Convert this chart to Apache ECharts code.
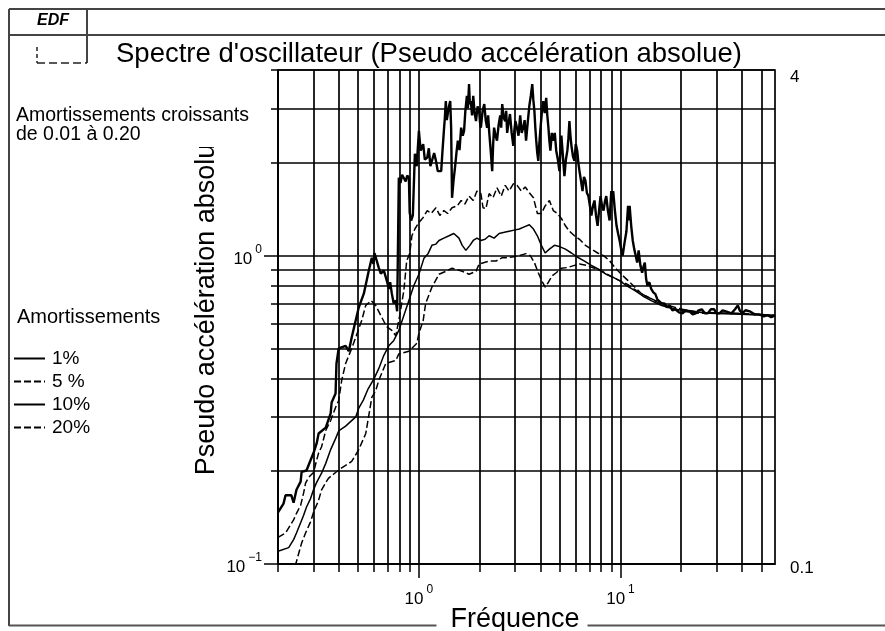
<!DOCTYPE html>
<html><head><meta charset="utf-8">
<script src="https://cdn.jsdelivr.net/npm/echarts@6/dist/echarts.min.js"></script>
<style>html,body{margin:0;padding:0;background:#fff}#c{width:885px;height:631px}</style>
</head><body><div id="c"></div>
<script>
// ---- data ----
const gridFreqTicks = [0.2,0.3,0.4,0.5,0.6,0.7,0.8,0.9,1,2,3,4,5,6,7,8,9,10,20,30,40,50];
const gridAccelTicks = [0.1,0.2,0.3,0.4,0.5,0.6,0.7,0.8,0.9,1,2,3,4];
const freqLabelValues = [1,10];
const accelLabelValues = [0.1,1];
const rightLabelValues = [0.1,4];
const seriesNames = ['1%','5 %','10%','20%'];

const damping1 = [[0.2,0.147],[0.213,0.157],[0.218,0.167],[0.233,0.167],[0.239,0.158],[0.247,0.174],[0.259,0.185],[0.262,0.199],[0.277,0.201],[0.29,0.217],[0.3,0.229],[0.311,0.246],[0.318,0.265],[0.345,0.277],[0.365,0.308],[0.369,0.334],[0.386,0.357],[0.39,0.447],[0.4,0.5],[0.433,0.51],[0.449,0.49],[0.464,0.543],[0.503,0.679],[0.533,0.753],[0.564,0.894],[0.584,0.985],[0.595,0.94],[0.602,1.02],[0.611,1.015],[0.632,0.914],[0.647,0.874],[0.67,0.894],[0.693,0.83],[0.71,0.78],[0.72,0.82],[0.734,0.753],[0.75,0.70],[0.768,0.715],[0.78,0.66],[0.788,1.12],[0.795,1.79],[0.81,1.72],[0.825,1.83],[0.842,1.81],[0.86,1.74],[0.875,1.82],[0.892,1.79],[0.9,1.38],[0.915,1.30],[0.933,1.35],[0.955,2.14],[0.975,1.95],[1.0,2.54],[1.02,2.19],[1.05,2.3],[1.07,2.05],[1.1,2.08],[1.12,2.23],[1.14,1.95],[1.16,2.03],[1.19,2.15],[1.215,2.03],[1.24,1.88],[1.29,1.88],[1.31,2.2],[1.33,2.54],[1.345,2.8],[1.36,3.17],[1.375,2.75],[1.39,2.88],[1.41,3.05],[1.43,3.17],[1.445,2.6],[1.46,1.54],[1.485,1.75],[1.51,1.93],[1.535,2.15],[1.56,2.36],[1.59,2.2],[1.62,2.6],[1.65,2.45],[1.675,2.54],[1.7,2.95],[1.73,3.3],[1.75,3.0],[1.773,3.6],[1.79,3.1],[1.81,3.17],[1.835,2.85],[1.86,3.3],[1.89,2.9],[1.92,2.73],[1.955,3.05],[1.99,2.95],[2.01,2.7],[2.03,2.6],[2.07,2.95],[2.11,3.1],[2.145,2.75],[2.18,2.6],[2.205,2.85],[2.23,2.54],[2.27,2.2],[2.31,1.88],[2.335,2.3],[2.36,2.6],[2.4,2.45],[2.44,2.36],[2.485,2.65],[2.53,2.85],[2.56,2.6],[2.59,3.1],[2.635,2.8],[2.68,2.73],[2.71,2.95],[2.74,2.5],[2.785,2.7],[2.83,2.88],[2.885,2.5],[2.94,2.27],[2.975,2.55],[3.01,2.73],[3.065,2.6],[3.12,2.45],[3.15,2.65],[3.18,2.85],[3.235,2.5],[3.29,2.6],[3.345,2.75],[3.4,2.36],[3.465,2.7],[3.53,3.06],[3.59,3.3],[3.65,3.6],[3.695,3.2],[3.74,2.95],[3.78,2.6],[3.82,2.36],[3.865,2.15],[3.91,2.03],[3.955,2.3],[4.0,2.54],[4.07,2.9],[4.14,3.17],[4.21,2.9],[4.28,3.25],[4.335,2.85],[4.39,2.6],[4.44,2.35],[4.49,2.19],[4.565,2.5],[4.64,2.36],[4.72,2.5],[4.8,2.19],[4.89,2.05],[4.98,1.88],[5.035,2.2],[5.09,2.45],[5.18,2.1],[5.27,1.81],[5.36,2.05],[5.45,2.19],[5.515,2.4],[5.58,2.73],[5.645,2.45],[5.71,2.27],[5.81,2.1],[5.91,2.03],[6.0,2.3],[6.1,2.19],[6.18,2.0],[6.26,1.88],[6.37,1.75],[6.48,1.62],[6.59,1.8],[6.7,1.75],[6.81,1.6],[6.93,1.56],[7.05,1.45],[7.17,1.35],[7.3,1.45],[7.43,1.51],[7.56,1.35],[7.7,1.25],[7.83,1.4],[7.96,1.56],[8.1,1.45],[8.24,1.4],[8.37,1.5],[8.5,1.56],[8.66,1.4],[8.83,1.3],[9.0,1.62],[9.1,1.5],[9.2,1.62],[9.38,1.4],[9.56,1.25],[9.73,1.18],[9.9,1.12],[10.07,1.05],[10.25,1.0],[10.47,1.1],[10.7,1.2],[10.9,1.45],[11.0,1.3],[11.1,1.45],[11.3,1.25],[11.5,1.12],[11.7,1.05],[11.9,1.0],[12.1,0.95],[12.3,1.04],[12.55,0.93],[12.8,0.88],[13.0,0.92],[13.2,0.95],[13.4,0.84],[13.6,0.8],[13.9,0.82],[14.2,0.78],[14.55,0.76],[14.9,0.75],[15.25,0.72],[15.6,0.73],[16.0,0.70],[16.5,0.7],[17.0,0.68],[17.5,0.69],[18.1,0.665],[18.7,0.67],[19.5,0.655],[20.3,0.65],[21.1,0.665],[22.0,0.66],[22.8,0.645],[23.6,0.65],[24.4,0.665],[25.3,0.67],[26.2,0.65],[27.1,0.65],[28.1,0.67],[29.1,0.67],[30.0,0.65],[31.0,0.65],[32.1,0.665],[33.3,0.66],[35.5,0.65],[37.0,0.67],[38.2,0.69],[39.0,0.665],[40,0.65],[41.8,0.665],[43.7,0.66],[46.3,0.645],[49,0.645],[51.3,0.635],[53.7,0.64],[56.0,0.632],[58.4,0.64]];

const damping5 = [[0.2,0.122],[0.218,0.126],[0.226,0.131],[0.239,0.139],[0.247,0.146],[0.259,0.155],[0.268,0.17],[0.274,0.183],[0.284,0.191],[0.3,0.198],[0.311,0.217],[0.318,0.229],[0.329,0.24],[0.345,0.271],[0.365,0.292],[0.386,0.322],[0.4,0.339],[0.414,0.394],[0.433,0.447],[0.464,0.5],[0.486,0.543],[0.52,0.616],[0.545,0.69],[0.58,0.715],[0.61,0.69],[0.647,0.64],[0.69,0.59],[0.734,0.572],[0.768,0.55],[0.795,0.616],[0.842,0.77],[0.87,0.963],[0.9,1.015],[0.923,1.16],[0.955,1.22],[1.0,1.28],[1.05,1.33],[1.1,1.4],[1.15,1.37],[1.215,1.43],[1.27,1.35],[1.33,1.4],[1.39,1.37],[1.46,1.43],[1.55,1.45],[1.62,1.51],[1.69,1.47],[1.773,1.56],[1.86,1.51],[1.94,1.62],[2.03,1.59],[2.08,1.43],[2.15,1.42],[2.23,1.59],[2.33,1.54],[2.44,1.66],[2.56,1.56],[2.68,1.69],[2.8,1.62],[2.94,1.71],[3.07,1.69],[3.22,1.62],[3.37,1.67],[3.53,1.6],[3.7,1.54],[3.87,1.37],[4.05,1.37],[4.23,1.45],[4.44,1.51],[4.64,1.4],[4.86,1.37],[5.09,1.32],[5.33,1.25],[5.58,1.2],[5.91,1.16],[6.26,1.13],[6.7,1.08],[7.17,1.05],[7.7,1.02],[8.24,1.0],[8.83,0.963],[9.45,0.91],[10.1,0.87],[10.9,0.83],[11.8,0.79],[12.8,0.75],[13.9,0.73],[15.6,0.7],[17.5,0.68],[20.3,0.66],[24.7,0.65],[31,0.65],[39,0.65],[49,0.645],[58.4,0.64]];

const damping10 = [[0.2,0.11],[0.226,0.113],[0.239,0.12],[0.247,0.126],[0.259,0.136],[0.268,0.144],[0.277,0.153],[0.29,0.163],[0.3,0.174],[0.311,0.184],[0.329,0.197],[0.345,0.212],[0.365,0.235],[0.386,0.255],[0.4,0.27],[0.433,0.28],[0.486,0.3],[0.503,0.32],[0.53,0.34],[0.56,0.37],[0.6,0.4],[0.632,0.43],[0.67,0.475],[0.709,0.51],[0.751,0.531],[0.795,0.572],[0.842,0.64],[0.892,0.715],[0.944,0.8],[1.0,0.87],[1.059,0.98],[1.11,1.015],[1.16,1.08],[1.215,1.09],[1.258,1.12],[1.33,1.14],[1.41,1.16],[1.49,1.18],[1.58,1.14],[1.64,1.08],[1.71,1.04],[1.79,1.08],[1.86,1.12],[1.94,1.14],[2.03,1.12],[2.13,1.13],[2.23,1.16],[2.36,1.14],[2.5,1.18],[2.65,1.19],[2.8,1.2],[2.97,1.21],[3.15,1.22],[3.33,1.24],[3.53,1.26],[3.7,1.22],[3.87,1.16],[4.05,1.08],[4.23,1.02],[4.44,1.05],[4.7,1.08],[4.98,1.07],[5.33,1.05],[5.71,1.02],[6.1,0.99],[6.63,0.96],[7.17,0.93],[7.87,0.9],[8.5,0.87],[9.2,0.85],[9.9,0.83],[10.7,0.8],[11.8,0.77],[12.9,0.74],[14.2,0.715],[15.9,0.69],[18.5,0.67],[22,0.66],[27.7,0.65],[39,0.645],[58.4,0.64]];

const damping20 = [[0.2,0.082],[0.222,0.09],[0.245,0.1],[0.262,0.117],[0.274,0.126],[0.29,0.137],[0.3,0.147],[0.318,0.161],[0.329,0.174],[0.349,0.186],[0.357,0.19],[0.386,0.198],[0.414,0.205],[0.464,0.215],[0.503,0.235],[0.545,0.265],[0.584,0.347],[0.611,0.365],[0.632,0.394],[0.685,0.447],[0.768,0.457],[0.795,0.48],[0.892,0.49],[0.977,0.52],[1.0,0.56],[1.05,0.616],[1.08,0.7],[1.16,0.79],[1.258,0.87],[1.36,0.89],[1.46,0.91],[1.55,0.9],[1.64,0.89],[1.773,0.87],[1.92,0.89],[1.99,0.94],[2.11,0.95],[2.23,0.96],[2.41,0.96],[2.59,0.985],[2.71,0.985],[2.9,0.99],[3.15,1.0],[3.4,1.015],[3.57,1.0],[3.74,0.95],[3.91,0.88],[4.1,0.82],[4.23,0.79],[4.39,0.82],[4.58,0.86],[4.8,0.88],[5.09,0.91],[5.45,0.915],[5.91,0.93],[6.26,0.94],[6.78,0.93],[7.43,0.91],[8.1,0.89],[9.0,0.855],[9.9,0.83],[10.9,0.805],[12.0,0.77],[13.3,0.74],[14.9,0.715],[17.1,0.69],[20.3,0.67],[24.7,0.655],[34.8,0.65],[58.4,0.64]];

// ---- chart ----
const FONT = '"Liberation Sans", Arial, Helvetica, sans-serif';
const chart = echarts.init(document.getElementById('c'), null, {renderer: 'canvas'});
const black = '#000';
const supRich = {
  b: {fontSize: 17, lineHeight: 24, verticalAlign: 'bottom', fontFamily: FONT, color: black},
  s: {fontSize: 12, lineHeight: 12, verticalAlign: 'top', fontFamily: FONT, color: black, padding: [0, 0, 0, 3]}
};
function powLabel(v) {
  const e = Math.round(Math.log10(v));
  return '{b|10}{s|' + (e < 0 ? '\u2212' + (-e) : e) + '}';
}
const gridLine = {show: true, lineStyle: {color: black, width: 1.7}};

const lineSeries = [damping1, damping5, damping10, damping20].map((d, i) => ({
  name: seriesNames[i],
  type: 'line',
  data: d,
  symbol: 'none',
  showSymbol: false,
  clip: true,
  itemStyle: {color: 'rgba(0,0,0,0)', borderColor: 'rgba(0,0,0,0)', borderWidth: 0, opacity: 0},
  lineStyle: {color: black, width: i === 0 ? 2.4 : 1.5, type: (i % 2 === 1) ? [7, 3] : 'solid'},
  z: 5
}));

const option = {
  animation: false,
  backgroundColor: '#fff',
  grid: {left: 278, top: 70, width: 497, height: 494, show: true, borderColor: black, borderWidth: 1.7, containLabel: false},
  legend: {
    orient: 'vertical', left: 8, top: 344, itemWidth: 31, itemHeight: 12, itemGap: 4,
    itemStyle: {opacity: 0},
    textStyle: {fontSize: 19, fontFamily: FONT, color: black, padding: [0, 0, 0, 2]},
    data: seriesNames, selectedMode: false
  },
  xAxis: [
    {
      type: 'log', logBase: 10, min: 0.2, max: 58.4,
      axisLine: {show: true, lineStyle: {color: black, width: 1.7}},
      axisTick: {show: true, customValues: gridFreqTicks, length: 8, inside: false, lineStyle: {color: black, width: 1.5}},
      splitLine: gridLine,
      minorTick: {show: false}, minorSplitLine: {show: false},
      axisLabel: {customValues: freqLabelValues, margin: 20, formatter: powLabel, rich: supRich}
    },
    {
      type: 'log', logBase: 10, min: 0.2, max: 58.4, position: 'bottom', offset: 0,
      axisLine: {show: false},
      axisTick: {show: true, customValues: freqLabelValues, length: 14, lineStyle: {color: black, width: 1.5}},
      axisLabel: {show: false}, splitLine: {show: false}
    }
  ],
  yAxis: [
    {
      type: 'log', logBase: 10, min: 0.1, max: 4, position: 'left',
      axisLine: {show: true, lineStyle: {color: black, width: 1.7}},
      axisTick: {show: true, customValues: gridAccelTicks, length: 7, lineStyle: {color: black, width: 1.5}},
      splitLine: gridLine,
      minorTick: {show: false}, minorSplitLine: {show: false},
      axisLabel: {customValues: accelLabelValues, margin: 16, formatter: powLabel, rich: supRich}
    },
    {
      type: 'log', logBase: 10, min: 0.1, max: 4, position: 'right',
      axisLine: {show: false}, axisTick: {show: false}, splitLine: {show: false},
      axisLabel: {customValues: rightLabelValues, margin: 15, verticalAlign: 'top',
        formatter: v => (v < 0.5 ? '{u|0.1}' : '{t|4}'),
        rich: {
          t: {fontSize: 17, lineHeight: 15, fontFamily: FONT, color: black},
          u: {fontSize: 17, lineHeight: 8, fontFamily: FONT, color: black}
        }}
    },
    {
      type: 'log', logBase: 10, min: 0.1, max: 4, position: 'left', offset: 0,
      axisLine: {show: false},
      axisTick: {show: true, customValues: accelLabelValues, length: 14, lineStyle: {color: black, width: 1.5}},
      axisLabel: {show: false}, splitLine: {show: false}
    }
  ],
  series: lineSeries,
  graphic: {
    elements: [
      // page frame
      {type: 'line', shape: {x1: 9, y1: 9, x2: 885, y2: 9}, style: {stroke: '#444', lineWidth: 2}},
      {type: 'line', shape: {x1: 9, y1: 35, x2: 885, y2: 35}, style: {stroke: '#444', lineWidth: 2}},
      {type: 'line', shape: {x1: 9, y1: 9, x2: 9, y2: 626}, style: {stroke: '#444', lineWidth: 2}},
      {type: 'line', shape: {x1: 87, y1: 9, x2: 87, y2: 63}, style: {stroke: '#444', lineWidth: 2}},
      {type: 'line', shape: {x1: 9, y1: 625.5, x2: 885, y2: 625.5}, style: {stroke: '#555', lineWidth: 2}},
      // small logo box
      {type: 'line', shape: {x1: 37, y1: 47, x2: 37, y2: 63}, style: {stroke: '#222', lineWidth: 1.5, lineDash: [4, 3]}},
      {type: 'line', shape: {x1: 37, y1: 63, x2: 87, y2: 63}, style: {stroke: '#222', lineWidth: 1.5, lineDash: [8, 4]}},
      {type: 'text', x: 37, y: 21, style: {text: 'EDF', font: 'italic bold 16px ' + FONT, fill: black, align: 'left', verticalAlign: 'middle', textAlign: 'left', textVerticalAlign: 'middle'}},
      // title
      {type: 'text', x: 116, y: 54, style: {text: "Spectre d'oscillateur (Pseudo accélération absolue)", font: '27.5px ' + FONT, fill: black, align: 'left', verticalAlign: 'middle', textAlign: 'left', textVerticalAlign: 'middle'}},
      // y axis name (rotated)
      {type: 'text', x: 207, y: 302, rotation: Math.PI / 2, z: 50, style: {text: 'Pseudo accélération absolue', font: '27px ' + FONT, fill: black, align: 'center', verticalAlign: 'middle', textAlign: 'center', textVerticalAlign: 'middle'}},
      // annotation box covering top of name
      {type: 'rect', z: 60, shape: {x: 10, y: 100, width: 255, height: 47}, style: {fill: '#fff'}},
      {type: 'text', x: 16, y: 116, z: 61, style: {text: 'Amortissements croissants', font: '19.5px ' + FONT, fill: black, align: 'left', verticalAlign: 'middle', textAlign: 'left', textVerticalAlign: 'middle'}},
      {type: 'text', x: 16, y: 135, z: 61, style: {text: 'de 0.01 à 0.20', font: '19.5px ' + FONT, fill: black, align: 'left', verticalAlign: 'middle', textAlign: 'left', textVerticalAlign: 'middle'}},
      // legend title
      {type: 'text', x: 17, y: 317, style: {text: 'Amortissements', font: '20px ' + FONT, fill: black, align: 'left', verticalAlign: 'middle', textAlign: 'left', textVerticalAlign: 'middle'}},
      // x axis name on bottom border
      {type: 'text', x: 512, y: 620, z: 60, style: {text: 'Fréquence', font: '27px ' + FONT, fill: black, align: 'center', verticalAlign: 'middle', textAlign: 'center', textVerticalAlign: 'middle', backgroundColor: '#fff', padding: [0, 8, 0, 14]}}
    ]
  }
};
chart.setOption(option);
</script></body></html>
